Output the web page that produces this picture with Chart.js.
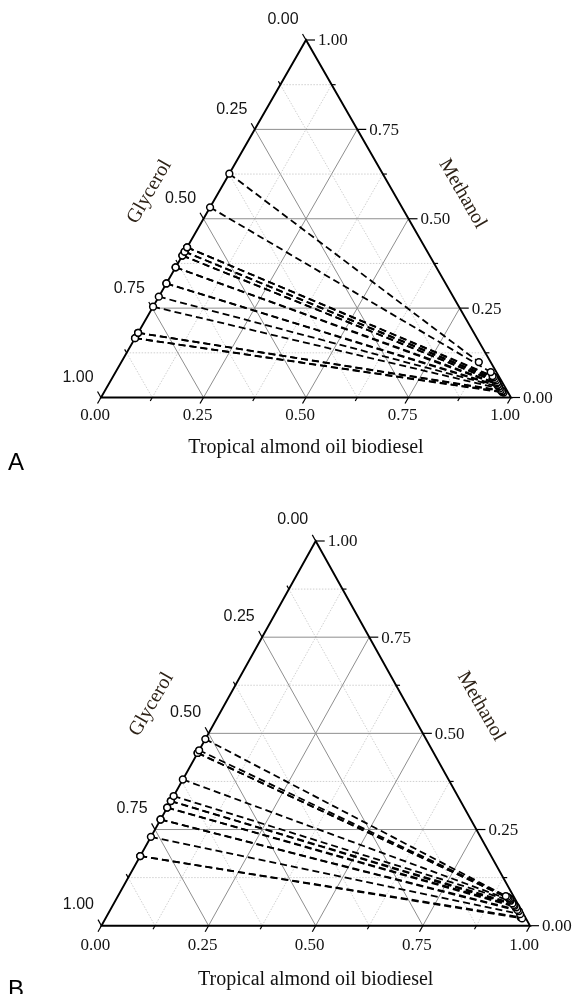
<!DOCTYPE html>
<html><head><meta charset="utf-8">
<script src="https://cdn.jsdelivr.net/npm/chart.js@4.4.0/dist/chart.umd.min.js"></script>
<style>
html,body{margin:0;padding:0;background:#fff;width:582px;height:994px;overflow:hidden;position:relative;}
canvas{position:absolute;left:0;}
#cA{top:0}
#cB{top:490px}
</style></head><body>
<canvas id="cA" width="582" height="490"></canvas>
<canvas id="cB" width="582" height="504"></canvas>
<script>
// ---- axis ticks / titles ----
const tickValues = [0, 0.25, 0.5, 0.75, 1];
const tickLabels = ['0.00', '0.25', '0.50', '0.75', '1.00'];
const minorStep = 0.125;
const titleBottom = 'Tropical almond oil biodiesel';
const titleRight = 'Methanol';
const titleLeft = 'Glycerol';
const panelNames = ['A', 'B'];

// ---- Panel A tie lines ----
// glycerol-rich end lies on the Glycerol–Methanol side: methanol mass fraction
const aLeftMethanol   = [0.626, 0.532, 0.420, 0.420, 0.408, 0.408, 0.397, 0.397, 0.364, 0.364, 0.319, 0.319, 0.282, 0.254, 0.181, 0.181, 0.166, 0.166];
// biodiesel-rich end: biodiesel and methanol mass fractions
const aRightBiodiesel = [0.872, 0.915, 0.925, 0.930, 0.935, 0.940, 0.945, 0.940, 0.945, 0.950, 0.950, 0.955, 0.955, 0.960, 0.965, 0.970, 0.970, 0.975];
const aRightMethanol  = [0.099, 0.071, 0.060, 0.057, 0.052, 0.048, 0.043, 0.045, 0.040, 0.036, 0.034, 0.031, 0.030, 0.025, 0.020, 0.018, 0.016, 0.014];

// ---- Panel B tie lines ----
const bLeftMethanol   = [0.485, 0.456, 0.449, 0.449, 0.380, 0.337, 0.324, 0.324, 0.307, 0.307, 0.276, 0.276, 0.231, 0.181, 0.181];
const bRightBiodiesel = [0.905, 0.910, 0.914, 0.918, 0.920, 0.922, 0.930, 0.935, 0.938, 0.944, 0.950, 0.955, 0.962, 0.972, 0.967];
const bRightMethanol  = [0.077, 0.075, 0.072, 0.070, 0.067, 0.065, 0.058, 0.054, 0.052, 0.048, 0.041, 0.038, 0.030, 0.019, 0.022];

// composition -> cartesian (x = biodiesel + methanol/2, y = methanol)
function toXY(bio, meth) { return { x: bio + meth / 2, y: meth }; }

function buildDatasets(leftM, rightB, rightM) {
  return leftM.map((m, i) => ({
    data: [toXY(0, m), toXY(rightB[i], rightM[i])],
    showLine: true,
    borderColor: '#000',
    borderWidth: 1.8,
    borderDash: [7, 4],
    pointRadius: 3.4,
    pointBorderWidth: 1.5,
    pointBorderColor: '#000',
    pointBackgroundColor: '#fff',
    clip: false
  }));
}

function makePlugin(cfg) {
  function P(chart, b, m) {
    const xs = chart.scales.x, ys = chart.scales.y;
    return [xs.getPixelForValue(b + m / 2), ys.getPixelForValue(m)];
  }
  function line(ctx, a, c) { ctx.beginPath(); ctx.moveTo(a[0], a[1]); ctx.lineTo(c[0], c[1]); ctx.stroke(); }
  function unit(a, c) { const dx = c[0] - a[0], dy = c[1] - a[1]; const l = Math.hypot(dx, dy); return [dx / l, dy / l]; }
  return {
    id: 'ternary' + cfg.name,
    beforeDatasetsDraw(chart) {
      const ctx = chart.ctx;
      ctx.save();
      const steps = [];
      for (let v = minorStep; v < 1 - 1e-9; v += minorStep) steps.push(+v.toFixed(4));
      steps.forEach(v => {
        const major = Math.abs(v * 4 - Math.round(v * 4)) < 1e-6;
        ctx.strokeStyle = major ? '#8e8e8e' : '#c4c4c4';
        ctx.lineWidth = major ? 1 : 0.8;
        ctx.setLineDash(major ? [] : [1.5, 1.5]);
        line(ctx, P(chart, 0, v), P(chart, 1 - v, v));
        line(ctx, P(chart, v, 0), P(chart, v, 1 - v));
        line(ctx, P(chart, 0, 1 - v), P(chart, 1 - v, 0));
      });
      ctx.setLineDash([]);
      ctx.strokeStyle = '#000';
      ctx.lineWidth = 1.9;
      const BL = P(chart, 0, 0), BR = P(chart, 1, 0), AP = P(chart, 0, 1);
      ctx.beginPath(); ctx.moveTo(BL[0], BL[1]); ctx.lineTo(BR[0], BR[1]); ctx.lineTo(AP[0], AP[1]); ctx.closePath(); ctx.stroke();
      ctx.lineWidth = 1.2;
      const dBottom = unit(AP, BL);
      const dLeft = unit(BR, AP);
      const dRight = [1, 0];
      for (let k = 0; k <= 8; k++) {
        const v = k * minorStep;
        const major = k % 2 === 0;
        const Lb = major ? 7 : 4, Lr = major ? 9 : 4;
        let p = P(chart, v, 0);
        line(ctx, p, [p[0] + dBottom[0] * Lb, p[1] + dBottom[1] * Lb]);
        p = P(chart, 0, 1 - v);
        line(ctx, p, [p[0] + dLeft[0] * Lb, p[1] + dLeft[1] * Lb]);
        p = P(chart, 1 - v, v);
        line(ctx, p, [p[0] + dRight[0] * Lr, p[1] + dRight[1] * Lr]);
      }
      ctx.restore();
    },
    afterDraw(chart) {
      const ctx = chart.ctx;
      ctx.save();
      ctx.fillStyle = '#141414';
      ctx.textBaseline = 'middle';
      ctx.font = '16px "Liberation Sans", Arial, sans-serif';
      ctx.textAlign = 'center';
      tickValues.forEach((g, i) => {
        const p = P(chart, 0, 1 - g);
        ctx.fillText(tickLabels[i], p[0] + cfg.leftOff[0], p[1] + cfg.leftOff[1]);
      });
      ctx.font = '17px "Liberation Serif", "Times New Roman", serif';
      ctx.textAlign = 'left';
      tickValues.forEach((m, i) => {
        const p = P(chart, 1 - m, m);
        ctx.fillText(tickLabels[i], p[0] + 12, p[1] + 1);
      });
      ctx.textAlign = 'center';
      tickValues.forEach((b, i) => {
        const p = P(chart, b, 0);
        ctx.fillText(tickLabels[i], p[0] - 6, p[1] + cfg.bottomOff);
      });
      ctx.font = '20px "Liberation Serif", "Times New Roman", serif';
      const BL = P(chart, 0, 0), BR = P(chart, 1, 0), AP = P(chart, 0, 1);
      ctx.fillStyle = '#111';
      ctx.fillText(titleBottom, (BL[0] + BR[0]) / 2, BL[1] + cfg.titleOff);
      ctx.fillStyle = '#2e2318';
      let mx = (BL[0] + AP[0]) / 2 + cfg.glyOff[0], my = (BL[1] + AP[1]) / 2 + cfg.glyOff[1];
      ctx.save(); ctx.translate(mx, my); ctx.rotate(-Math.PI / 3); ctx.fillText(titleLeft, 0, 0); ctx.restore();
      mx = (BR[0] + AP[0]) / 2 + cfg.methOff[0]; my = (BR[1] + AP[1]) / 2 + cfg.methOff[1];
      ctx.save(); ctx.translate(mx, my); ctx.rotate(Math.PI / 3); ctx.fillText(titleRight, 0, 0); ctx.restore();
      ctx.fillStyle = '#000';
      ctx.font = '24px "Liberation Sans", Arial, sans-serif';
      ctx.textAlign = 'left';
      ctx.textBaseline = 'alphabetic';
      ctx.fillText(cfg.name, cfg.letter[0], cfg.letter[1]);
      ctx.restore();
    }
  };
}

function makeChart(id, datasets, padding, cfg) {
  return new Chart(document.getElementById(id), {
    type: 'scatter',
    data: { datasets },
    options: {
      responsive: false,
      animation: false,
      devicePixelRatio: 1,
      layout: { padding },
      plugins: { legend: { display: false }, tooltip: { enabled: false } },
      scales: {
        x: { type: 'linear', min: 0, max: 1, display: false },
        y: { type: 'linear', min: 0, max: 1, display: false }
      }
    },
    plugins: [makePlugin(cfg)]
  });
}

makeChart('cA', buildDatasets(aLeftMethanol, aRightBiodiesel, aRightMethanol),
  { left: 101, right: 71, top: 40, bottom: 92.5 },
  { name: panelNames[0], leftOff: [-23, -20], bottomOff: 18, titleOff: 50, glyOff: [-54, -27], methOff: [54, -25], letter: [8, 470] });

makeChart('cB', buildDatasets(bLeftMethanol, bRightBiodiesel, bRightMethanol),
  { left: 101.4, right: 52, top: 51, bottom: 68.3 },
  { name: panelNames[1], leftOff: [-23, -21], bottomOff: 20, titleOff: 54, glyOff: [-57, -29], methOff: [58, -27], letter: [8, 507] });
</script>
</body></html>
